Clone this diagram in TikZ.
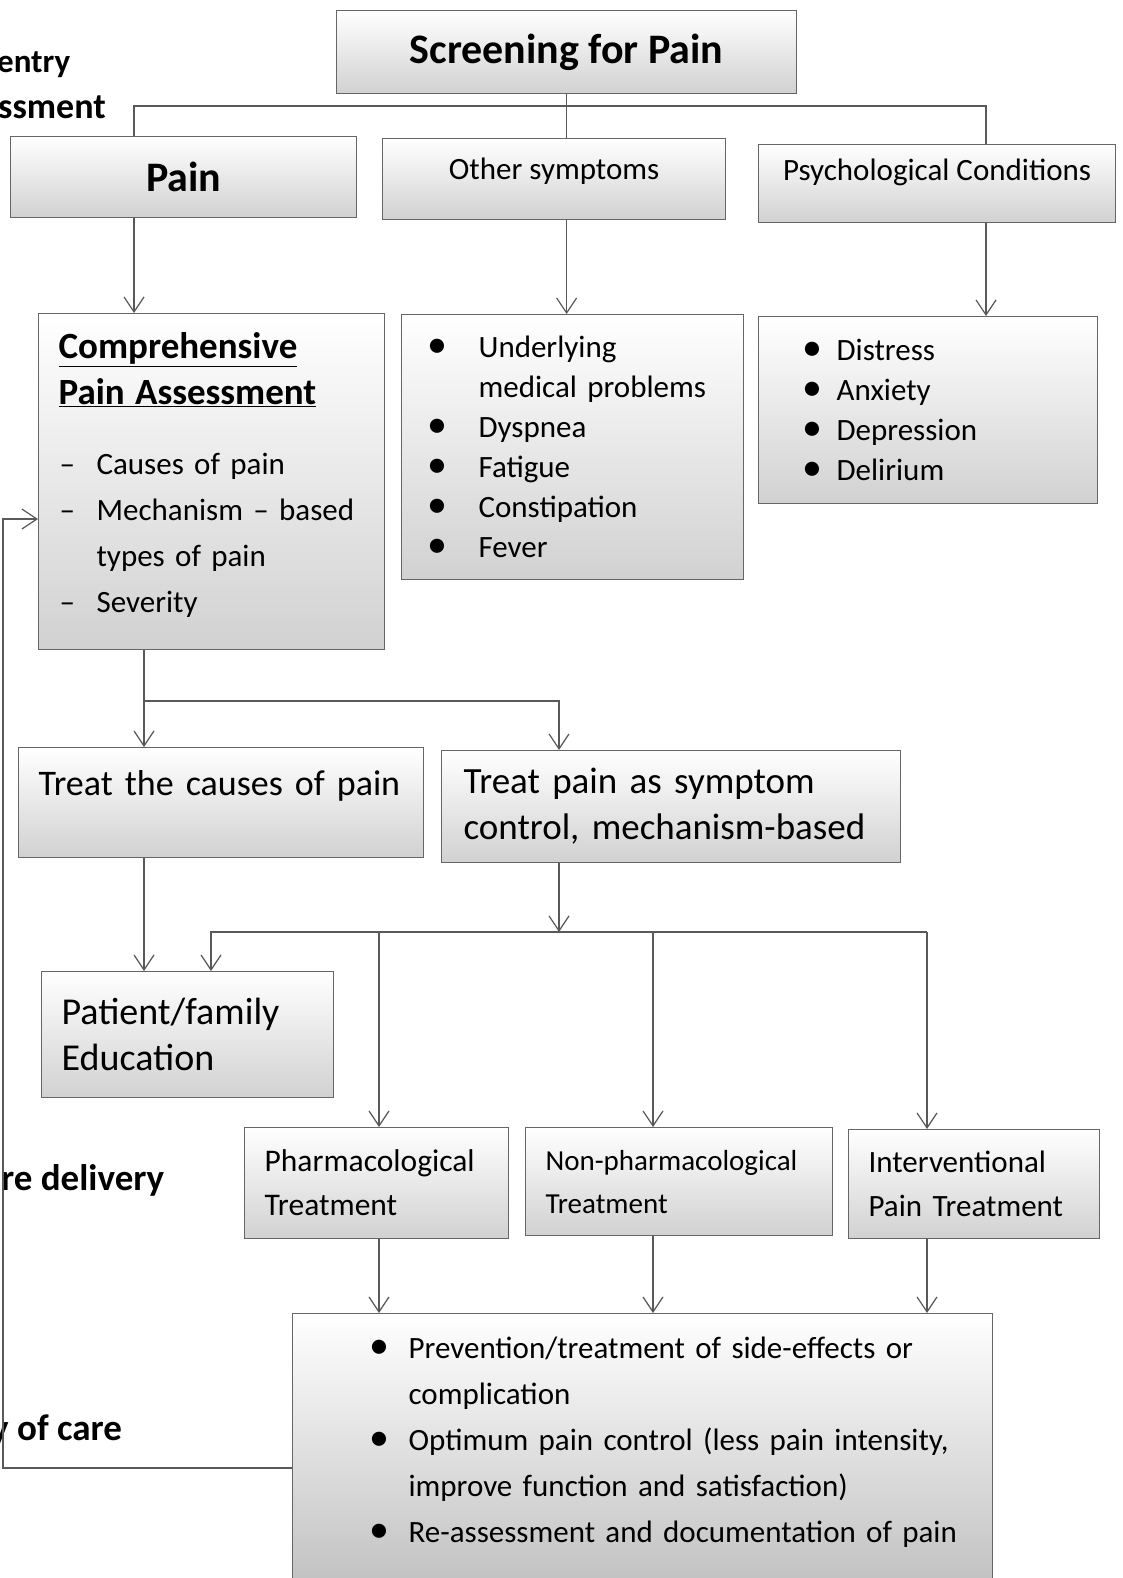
\documentclass[tikz,border=0pt]{standalone}
\usepackage{fontspec}
\setmainfont{Carlito}
\usetikzlibrary{positioning,arrows.meta}
\tikzstyle{gbox}=[rectangle, draw=black!60, line width=1.2pt, top color=white,
                  bottom color=black!18, anchor=north west, inner ysep=0pt,
                  inner xsep=20pt, align=left]
\tikzstyle{cbox}=[gbox, align=center, inner xsep=0pt]
\tikzstyle{pline}=[-, draw=black!65, line width=1.2pt]
\tikzstyle{parrow}=[pline, -{Straight Barb[length=15pt,width=20pt]}]
\tikzstyle{sidelbl}=[anchor=base west, inner sep=0pt, font=\fontsize{37}{42}\selectfont\bfseries]
\newcommand{\bigbul}{\makebox[0pt][l]{\fontsize{40}{40}\selectfont\textbullet}}

\begin{document}
\begin{tikzpicture}[x=1pt,y=-1pt]

\path[fill=white,use as bounding box] (0,0) rectangle (1122,1578);

\node (LBLENTRY) [sidelbl, font=\fontsize{33}{40}\selectfont\bfseries] at (-3,73) {entry};
\node (LBLASSESS) [sidelbl, font=\fontsize{36}{42}\selectfont\bfseries] at (-2,119) {ssment};
\node (LBLDELIV) [sidelbl] at (1,1190) {re delivery};
\node (LBLCARE) [sidelbl] at (-9,1440) {y of care};

\node (SCREEN) [cbox, minimum width=460pt, minimum height=83pt,
 font=\fontsize{42}{48}\selectfont\bfseries] at (336,10) {Screening for Pain};
\node (PAINBOX) [cbox, minimum width=346pt, minimum height=81pt,
 font=\fontsize{42}{48}\selectfont\bfseries] at (10,136) {Pain};
\node (OTHSYM) [cbox, minimum width=343pt, minimum height=81pt, text height=20pt, text depth=20pt,
 font=\fontsize{31}{38}\selectfont] at (382,138) {Other symptoms};
\node (PSYCOND) [cbox, minimum width=357pt, minimum height=78pt, text height=20pt, text depth=26pt,
 font=\fontsize{31}{38}\selectfont] at (758,144) {Psychological Conditions};
\coordinate (BUSL) at (134,106);
\coordinate (BUSR) at (986,106);
 \draw[pline] (SCREEN.south) -- (SCREEN.south |- OTHSYM.north);
 \draw[pline] (PAINBOX.north -| BUSL) -- (BUSL) -- (BUSR) -- (PSYCOND.north -| BUSR);

\node (COMPASS) [gbox, text width=306pt, minimum height=336pt, text height=26pt, text depth=272pt,
 font=\fontsize{31}{46}\selectfont] at (38,313) {%
{\fontsize{37}{46}\selectfont\bfseries\underline{Comprehensive}}\\
{\fontsize{37}{46}\selectfont\bfseries\underline{Pain Assessment}}\\[24pt]
\makebox[38pt][l]{\hspace*{1pt}–}Causes of pain\\
\makebox[38pt][l]{\hspace*{1pt}–}Mechanism – based\\
\hspace*{38pt}types of pain\\
\makebox[38pt][l]{\hspace*{1pt}–}Severity};
\node (SYMLIST) [gbox, text width=302pt, minimum height=265pt,
 font=\fontsize{31}{40}\selectfont] at (401,314) {%
\hspace*{6pt}\makebox[51pt][l]{\bigbul}Underlying\\
\hspace*{57pt}medical problems\\
\hspace*{6pt}\makebox[51pt][l]{\bigbul}Dyspnea\\
\hspace*{6pt}\makebox[51pt][l]{\bigbul}Fatigue\\
\hspace*{6pt}\makebox[51pt][l]{\bigbul}Constipation\\
\hspace*{6pt}\makebox[51pt][l]{\bigbul}Fever};
\node (PSYLIST) [gbox, text width=299pt, minimum height=187pt,
 font=\fontsize{31}{40}\selectfont] at (758,316) {%
\hspace*{24pt}\makebox[34pt][l]{\bigbul}Distress\\
\hspace*{24pt}\makebox[34pt][l]{\bigbul}Anxiety\\
\hspace*{24pt}\makebox[34pt][l]{\bigbul}Depression\\
\hspace*{24pt}\makebox[34pt][l]{\bigbul}Delirium};
 \draw[parrow] (PAINBOX.south -| BUSL) -- (COMPASS.north -| BUSL);
 \draw[parrow] (OTHSYM.south -| SCREEN.south) -- (SYMLIST.north -| SCREEN.south);
 \draw[parrow] (PSYCOND.south -| BUSR) -- (PSYLIST.north -| BUSR);

\node (TRCAUSE) [gbox, inner xsep=16pt, text width=373pt, minimum height=110pt,
 text height=27pt, text depth=42pt, font=\fontsize{36}{44}\selectfont] at (18,747)
 {\hspace*{4pt}Treat the causes of pain};
\node (TRSYMP) [gbox, text width=419pt, minimum height=112pt,
 font=\fontsize{37}{46}\selectfont] at (441,750)
 {\hspace*{2pt}Treat pain as symptom\\\hspace*{2pt}control, mechanism-based};
\coordinate (SPLIT) at (144,701);
\coordinate (SPLITR) at (559,701);
 \draw[parrow] (COMPASS.south -| SPLIT) -- (TRCAUSE.north -| SPLIT);
 \draw[parrow] (SPLIT) -- (SPLITR) -- (TRSYMP.north -| SPLITR);

\node (EDUC) [gbox, text width=252pt, minimum height=126pt,
 font=\fontsize{38}{46}\selectfont] at (41,971) {Patient/family\\Education};
\coordinate (BUSB) at (559,932);
\coordinate (BUS2L) at (211,932);
\coordinate (BUS2R) at (927,932);
\coordinate (COLA) at (379,932);
\coordinate (COLB) at (653,932);
 \draw[parrow] (TRCAUSE.south -| SPLIT) -- (EDUC.north -| SPLIT);
 \draw[parrow] (TRSYMP.south -| BUSB) -- (BUSB);
 \draw[parrow] (BUS2R) -- (BUS2L) -- (EDUC.north -| BUS2L);

\node (PHARM) [gbox, text width=224pt, minimum height=111pt,
 font=\fontsize{31.5}{44}\selectfont] at (244,1127) {Pharmacological\\Treatment};
\node (NONPHARM) [gbox, text width=267pt, minimum height=108pt,
 font=\fontsize{29}{43}\selectfont] at (525,1127) {Non-pharmacological\\Treatment};
\node (INTERV) [gbox, text width=211pt, minimum height=109pt,
 font=\fontsize{31}{44}\selectfont] at (848,1129) {Interventional\\Pain Treatment};
 \draw[parrow] (COLA) -- (PHARM.north -| COLA);
 \draw[parrow] (COLB) -- (NONPHARM.north -| COLB);
 \draw[parrow] (BUS2R) -- (INTERV.north -| BUS2R);

\node (OUTCOME) [gbox, inner xsep=12pt, text width=676pt, minimum height=269pt,
 text height=22pt, text depth=201pt, bottom color=black!24,
 font=\fontsize{31}{46}\selectfont] at (292,1313) {%
\hspace*{65pt}\makebox[39pt][l]{\bigbul}Prevention/treatment of side-effects or\\
\hspace*{104pt}complication\\
\hspace*{65pt}\makebox[39pt][l]{\bigbul}Optimum pain control (less pain intensity,\\
\hspace*{104pt}improve function and satisfaction)\\
\hspace*{65pt}\makebox[39pt][l]{\bigbul}Re-assessment and documentation of pain};
 \draw[parrow] (PHARM.south -| COLA) -- (OUTCOME.north -| COLA);
 \draw[parrow] (NONPHARM.south -| COLB) -- (OUTCOME.north -| COLB);
 \draw[parrow] (INTERV.south -| BUS2R) -- (OUTCOME.north -| BUS2R);
\coordinate (LOOPB) at (3,1468);
\coordinate (LOOPT) at (3,519);
 \draw[parrow] (OUTCOME.west |- LOOPB) -- (LOOPB) -- (LOOPT) -- (COMPASS.west |- LOOPT);

\end{tikzpicture}
\end{document}
